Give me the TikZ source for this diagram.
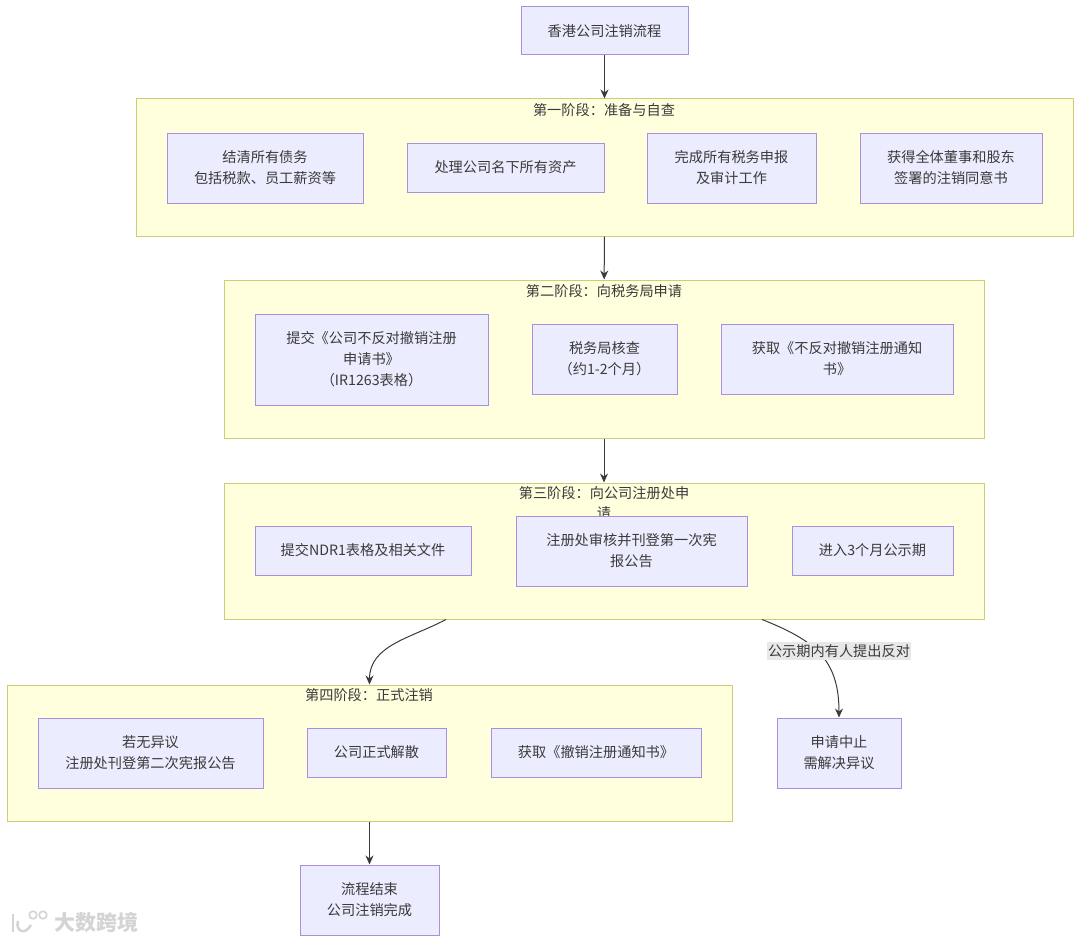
\documentclass[tikz,border=0pt]{standalone}
\usepackage{fontspec}
\usetikzlibrary{arrows.meta}
\setmainfont{Noto Sans CJK SC}
\tikzset{
	stepbox/.style={draw=boxline,fill=boxfill,line width=1pt,inner sep=0pt,align=center,text=ink,font=\fontsize{14.2}{21}\selectfont},
	stagebox/.style={draw=stageline,fill=stagefill,line width=1pt,inner sep=0pt},
	stagelabel/.style={inner sep=0pt,text=ink,font=\fontsize{14.2}{21}\selectfont},
	edge/.style={draw=ink,line width=1pt,-{Stealth[length=9pt,width=8pt]}},
}
\definecolor{boxline}{HTML}{A98FDC}
\definecolor{boxfill}{HTML}{ECECFF}
\definecolor{stageline}{HTML}{CDCD78}
\definecolor{stagefill}{HTML}{FFFFDE}
\definecolor{ink}{HTML}{3A3A3A}
\begin{document}
\begin{tikzpicture}[x=1pt,y=-1pt]
	\useasboundingbox (0,0) rectangle (1080,942);

	\node[stagebox,minimum width=937pt,minimum height=137pt] (stageone) at (604.5,167.5) {};
	\node[stagebox,minimum width=760pt,minimum height=158pt] (stagetwo) at (604,359) {};
	\node[stagebox,minimum width=760pt,minimum height=136pt] (stagethree) at (604,551) {};
	\node[stagebox,minimum width=725pt,minimum height=136pt] (stagefour) at (369.5,753) {};

	\node[stagelabel] (labelone) at (604,110) {第一阶段：准备与自查};
	\node[stagelabel] (labeltwo) at (604,291) {第二阶段：向税务局申请};
	\node[stagelabel] (labelthree) at (604,493) {第三阶段：向公司注册处申};
	\node[stagelabel] (labelthreeb) at (604,513) {请};
	\node[stagelabel] (labelfour) at (369,695) {第四阶段：正式注销};

	\node[stepbox,minimum width=167pt,minimum height=48pt] (title) at (604.5,31) {香港公司注销流程};

	\node[stepbox,minimum width=196pt,minimum height=70pt] (debts) at (265,168) {结清所有债务\\包括税款、员工薪资等};
	\node[stepbox,minimum width=197pt,minimum height=49pt] (assets) at (505.5,167.5) {处理公司名下所有资产};
	\node[stepbox,minimum width=169pt,minimum height=70pt] (audit) at (731.5,168) {完成所有税务申报\\及审计工作};
	\node[stepbox,minimum width=182pt,minimum height=70pt] (consent) at (951,168) {获得全体董事和股东\\签署的注销同意书};

	\node[stepbox,minimum width=233pt,minimum height=91pt] (irform) at (371.5,359.5) {提交《公司不反对撤销注册\\申请书》\\（IR1263表格）};
	\node[stepbox,minimum width=145pt,minimum height=70pt] (taxcheck) at (604.5,359) {税务局核查\\（约1-2个月）};
	\node[stepbox,minimum width=232pt,minimum height=70pt] (notice) at (837,359) {获取《不反对撤销注册通知\\书》};

	\node[stepbox,minimum width=216pt,minimum height=49pt] (ndr) at (363,550.5) {提交NDR1表格及相关文件};
	\node[stepbox,minimum width=231pt,minimum height=70pt] (gazette) at (631.5,551) {注册处审核并刊登第一次宪\\报公告};
	\node[stepbox,minimum width=161pt,minimum height=49pt] (period) at (872.5,550.5) {进入3个月公示期};

	\node[stepbox,minimum width=225pt,minimum height=70pt] (second) at (150.5,753) {若无异议\\注册处刊登第二次宪报公告};
	\node[stepbox,minimum width=139pt,minimum height=49pt] (dissolve) at (376.5,752.5) {公司正式解散};
	\node[stepbox,minimum width=210pt,minimum height=49pt] (final) at (596,752.5) {获取《撤销注册通知书》};

	\node[stepbox,minimum width=124pt,minimum height=70pt] (halt) at (839,753) {申请中止\\需解决异议};
	\node[stepbox,minimum width=139pt,minimum height=70pt] (finish) at (369.5,900) {流程结束\\公司注销完成};

	\draw[edge] (title) -- (stageone);
	\draw[edge] (stageone) -- (stagetwo);
	\draw[edge] (stagetwo) -- (stagethree);
	\draw[edge] (stagefour) -- (finish);
	\draw[edge] ([xshift=-158pt]stagethree.south) to[out=208,in=90] (stagefour.north);
	\draw[edge] ([xshift=158pt]stagethree.south) .. controls +(53,21) and +(0,-58) .. (halt.north);
	\node[fill=black!9,inner xsep=1pt,inner ysep=2pt,text=ink,font=\fontsize{14.2}{18}\selectfont] (objection) at (839,651) {公示期内有人提出反对};

	\node[text=black!17,inner sep=0pt,font=\bfseries\fontsize{21}{21}\selectfont] (brand) at (96,922) {大数跨境};
	\draw[black!17,line width=2.5pt] (13,914) -- (13,932);
	\draw[black!17,line width=2.5pt] (18,921) .. controls (15,931) and (25,936) .. (31,925);
	\draw[black!17,line width=1.6pt] (33,915) circle (3.8pt) (43,915) circle (3.8pt);
\end{tikzpicture}
\end{document}
